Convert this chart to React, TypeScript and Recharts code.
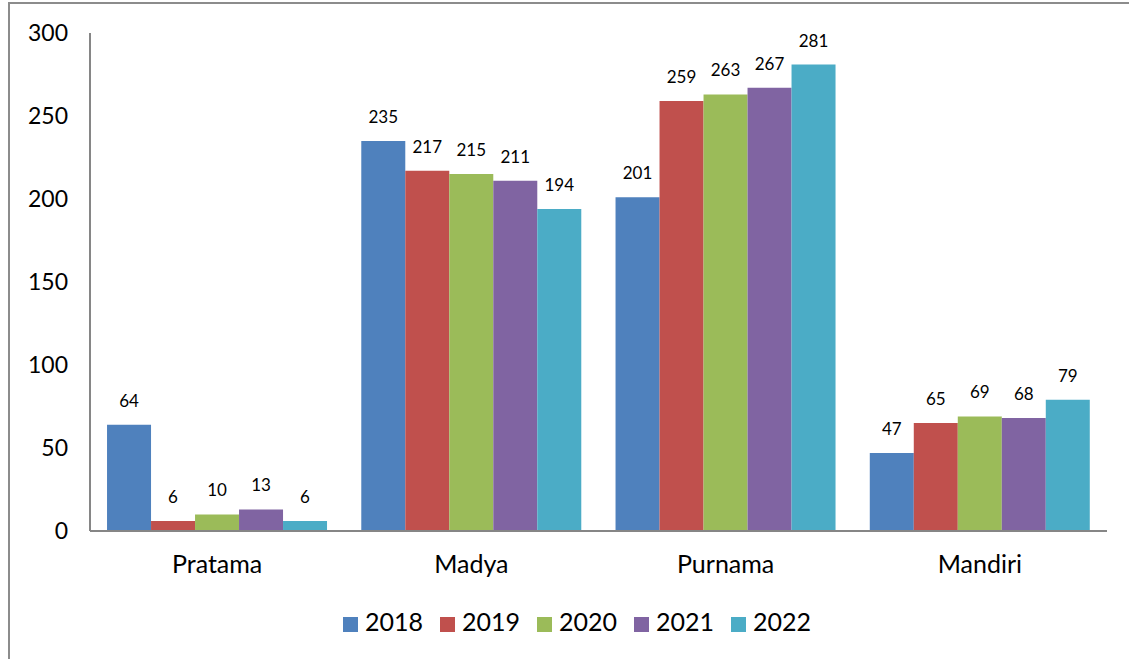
import { Bar, BarChart, LabelList, Legend, XAxis, YAxis } from "recharts";

const categories = ["Pratama", "Madya", "Purnama", "Mandiri"];
const years = ["2018", "2019", "2020", "2021", "2022"];
const values2018 = [64, 235, 201, 47];
const values2019 = [6, 217, 259, 65];
const values2020 = [10, 215, 263, 69];
const values2021 = [13, 211, 267, 68];
const values2022 = [6, 194, 281, 79];
const yTicks = [0, 50, 100, 150, 200, 250, 300];
const colors = ["#4f81bd", "#c0504d", "#9bbb59", "#8064a2", "#4bacc6"];

const seriesValues = [values2018, values2019, values2020, values2021, values2022];

const data = categories.map((name, i) => {
  const row: Record<string, string | number> = { name };
  years.forEach((y, j) => {
    row[y] = seriesValues[j][i];
  });
  return row;
});

const font = "Lato, 'Open Sans', sans-serif";

export default function App() {
  return (
    <div style={{ position: "absolute", left: 0, top: 0, width: 1129, height: 659, background: "#fff", fontFamily: font }}>
      <div
        style={{
          position: "absolute",
          left: 8,
          top: 2,
          width: 1125,
          height: 660,
          borderLeft: "2px solid #8c8c8c",
          borderTop: "2px solid #8c8c8c",
        }}
      />
      <div style={{ position: "absolute", left: 0, top: 0 }}>
        <BarChart
          width={1129}
          height={659}
          data={data}
          margin={{ top: 33, right: 22, left: 0, bottom: 0 }}
          barCategoryGap="6.7%"
          barGap={0}
        >
          <XAxis
            dataKey="name"
            height={94}
            tickLine={false}
            axisLine={{ stroke: "#868686", strokeWidth: 2 }}
            tickMargin={18}
            tick={{ fontSize: 25, fill: "#000", fontFamily: font }}
          />
          <YAxis
            width={90}
            domain={[0, 300]}
            ticks={yTicks}
            interval={0}
            tickLine={false}
            axisLine={{ stroke: "#868686", strokeWidth: 2 }}
            tickMargin={16}
            tick={{ fontSize: 23, fill: "#000", fontFamily: font }}
          />
          <Legend
            verticalAlign="bottom"
            align="left"
            iconType="square"
            iconSize={15}
            wrapperStyle={{ top: 604, left: 343, width: 520, height: 34, fontSize: 25, lineHeight: "34px", color: "#000", fontFamily: font }}
            formatter={(value: string) => (
              <span style={{ color: "#000", marginLeft: 3, marginRight: 7 }}>{value}</span>
            )}
          />
          {years.map((y, j) => (
            <Bar key={y} dataKey={y} fill={colors[j]} isAnimationActive={false}>
              <LabelList dataKey={y} position="top" offset={18} style={{ fontSize: 17, fill: "#000", fontFamily: font }} />
            </Bar>
          ))}
        </BarChart>
      </div>
    </div>
  );
}
